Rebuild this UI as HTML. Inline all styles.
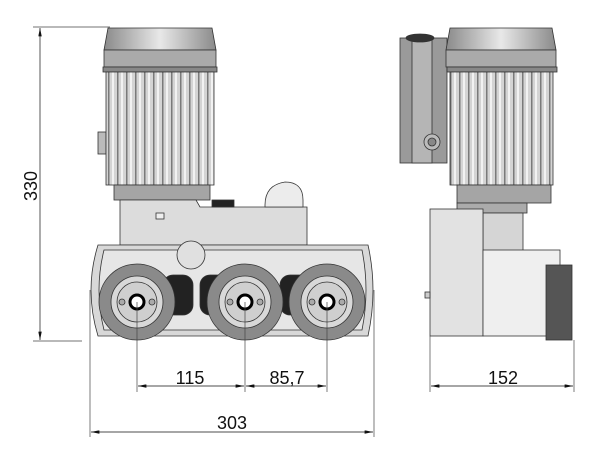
<!DOCTYPE html>
<html><head><style>body{margin:0;background:#fff}svg{display:block}</style></head><body>
<svg width="607" height="449" viewBox="0 0 607 449" xmlns="http://www.w3.org/2000/svg" font-family="Liberation Sans, sans-serif">
<defs>
<linearGradient id="cap" x1="0" x2="1"><stop offset="0" stop-color="#8a8a8a"/><stop offset=".5" stop-color="#e8e8e8"/><stop offset="1" stop-color="#8a8a8a"/></linearGradient>
<marker id="a" viewBox="0 0 12 5" refX="12" refY="2.5" markerWidth="12" markerHeight="5" orient="auto-start-reverse"><path d="M0,0L12,2.5L0,5z" fill="#111"/></marker>
<pattern id="fins" width="9" height="10" patternUnits="userSpaceOnUse"><rect width="9" height="10" fill="#d4d4d4"/><rect x="0" width="1.5" height="10" fill="#7a7a7a"/><rect x="4" width="2" height="10" fill="#f2f2f2"/></pattern>
</defs>
<g stroke="#333" stroke-width="0.8">
<rect x="98" y="132" width="8" height="22" fill="#bbb"/>
<path d="M108,28 L212,28 L216,50 L104,50Z" fill="url(#cap)"/>
<rect x="104" y="50" width="112" height="17" fill="#aaa"/>
<rect x="103" y="67" width="114" height="5" fill="#888"/>
<rect x="106" y="72" width="108" height="113" fill="url(#fins)"/>
<rect x="114" y="185" width="96" height="15" fill="#a5a5a5"/>
<path d="M120,200 L196,200 L200,207 L307,207 L307,245 L120,245Z" fill="#dcdcdc"/>
<rect x="212" y="200" width="22" height="7" fill="#222"/>
<rect x="156" y="213" width="8" height="6" fill="#eee"/>
<path d="M265,205 Q265,185 285,182 Q303,182 303,200 L303,207 L265,207Z" fill="#ececec"/>
<path d="M98,245 L368,245 Q378,290 368,336 L98,336 Q84,290 98,245Z" fill="#d8d8d8"/>
<path d="M104,250 L362,250 Q370,290 362,330 L104,330 Q94,290 104,250Z" fill="#e6e6e6"/>
<circle cx="191" cy="255" r="14" fill="#e0e0e0"/>
<rect x="163" y="275" width="30" height="40" rx="10" fill="#222"/>
<rect x="200" y="275" width="28" height="40" rx="10" fill="#222"/>
<rect x="280" y="275" width="30" height="40" rx="10" fill="#222"/>
<g>
<circle cx="137" cy="302" r="38" fill="#8a8a8a"/><circle cx="137" cy="302" r="26" fill="#d8d8d8"/><circle cx="137" cy="302" r="20" fill="#cfcfcf"/><circle cx="137" cy="302" r="7" fill="#fff" stroke="#000" stroke-width="3"/><circle cx="122" cy="302" r="3" fill="#aaa"/><circle cx="152" cy="302" r="3" fill="#aaa"/>
<circle cx="245" cy="302" r="38" fill="#8a8a8a"/><circle cx="245" cy="302" r="26" fill="#d8d8d8"/><circle cx="245" cy="302" r="20" fill="#cfcfcf"/><circle cx="245" cy="302" r="7" fill="#fff" stroke="#000" stroke-width="3"/><circle cx="230" cy="302" r="3" fill="#aaa"/><circle cx="260" cy="302" r="3" fill="#aaa"/>
<circle cx="327" cy="302" r="38" fill="#8a8a8a"/><circle cx="327" cy="302" r="26" fill="#d8d8d8"/><circle cx="327" cy="302" r="20" fill="#cfcfcf"/><circle cx="327" cy="302" r="7" fill="#fff" stroke="#000" stroke-width="3"/><circle cx="312" cy="302" r="3" fill="#aaa"/><circle cx="342" cy="302" r="3" fill="#aaa"/>
</g>
<rect x="400" y="38" width="47" height="125" fill="#9a9a9a"/>
<rect x="412" y="38" width="20" height="125" fill="#b5b5b5"/>
<ellipse cx="420" cy="38" rx="14" ry="4" fill="#333"/>
<circle cx="432" cy="142" r="8" fill="#bbb"/><circle cx="432" cy="142" r="4" fill="#888"/>
<path d="M450,28 L552,28 L556,50 L446,50Z" fill="url(#cap)"/>
<rect x="446" y="50" width="110" height="17" fill="#aaa"/>
<rect x="447" y="67" width="110" height="5" fill="#888"/>
<rect x="450" y="72" width="103" height="113" fill="url(#fins)"/>
<rect x="457" y="185" width="94" height="18" fill="#a5a5a5"/>
<rect x="457" y="203" width="70" height="10" fill="#ababab"/>
<rect x="483" y="213" width="40" height="40" fill="#d5d5d5"/>
<rect x="430" y="209" width="53" height="127" fill="#e2e2e2"/>
<rect x="483" y="250" width="77" height="86" fill="#efefef"/>
<rect x="546" y="265" width="26" height="75" fill="#555"/>
<rect x="425" y="292" width="5" height="6" fill="#ccc"/>
</g>
<g stroke="#444" stroke-width="0.7" fill="none">
<line x1="33" y1="27" x2="110" y2="27"/><line x1="33" y1="341" x2="82" y2="341"/>
<line x1="40" y1="28" x2="40" y2="340" stroke="#111" marker-start="url(#a)" marker-end="url(#a)"/>
<line x1="137" y1="302" x2="137" y2="392"/><line x1="245" y1="302" x2="245" y2="392"/><line x1="327" y1="302" x2="327" y2="392"/>
<line x1="90" y1="290" x2="90" y2="437"/><line x1="374" y1="290" x2="374" y2="437"/>
<line x1="430" y1="336" x2="430" y2="392"/><line x1="574" y1="340" x2="574" y2="392"/>
<line x1="138" y1="386" x2="244" y2="386" stroke="#111" marker-start="url(#a)" marker-end="url(#a)"/>
<line x1="246" y1="386" x2="326" y2="386" stroke="#111" marker-start="url(#a)" marker-end="url(#a)"/>
<line x1="431" y1="386" x2="573" y2="386" stroke="#111" marker-start="url(#a)" marker-end="url(#a)"/>
<line x1="91" y1="432" x2="373" y2="432" stroke="#111" marker-start="url(#a)" marker-end="url(#a)"/>
</g>
<g fill="#111" font-size="18" text-anchor="middle">
<text x="190" y="384">115</text>
<text x="287" y="384">85,7</text>
<text x="503" y="384">152</text>
<text x="232" y="429">303</text>
<text transform="translate(37,186) rotate(-90)">330</text>
</g>
</svg>
</body></html>
